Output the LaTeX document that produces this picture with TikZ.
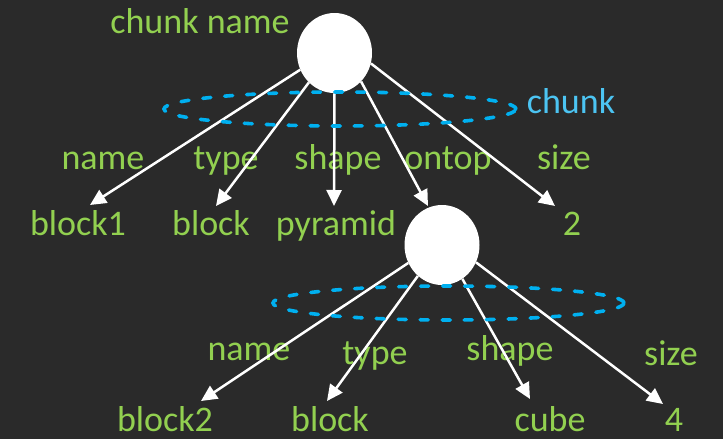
\documentclass[tikz,border=0pt]{standalone}
\usepackage{fontspec}
\setmainfont{Carlito}
\usetikzlibrary{arrows.meta,shapes.geometric}
\definecolor{bgdark}{HTML}{2A2A2A}
\definecolor{keygreen}{HTML}{92D050}
\definecolor{ringblue}{HTML}{00B0F0}
\definecolor{ringtext}{HTML}{4CC4F2}
\begin{document}
\begin{tikzpicture}[x=1pt,y=-1pt,
  chunknode/.style={ellipse,fill=white,draw=none,minimum width=75pt,minimum height=80pt,inner sep=0pt},
  lbl/.style={text=keygreen,font=\fontsize{36}{40}\selectfont,anchor=base,inner sep=0pt},
  link/.style={draw=white,line width=2.5pt,-{Triangle[length=16pt,width=15pt]}},
  group/.style={ellipse,draw=ringblue,line width=3.6pt,dash pattern=on 8pt off 14pt,line cap=round,inner sep=0pt},
]
% background
\fill[bgdark] (0,0) rectangle (723,439);
\useasboundingbox (0,0) rectangle (723,439);

% chunk nodes
\node[chunknode] (e1) at (334.5,53) {};
\node[chunknode] (e2) at (442,245) {};

% labels
\node[lbl] (cname) at (200,33) {chunk name};
\node[lbl,text=ringtext] (cchunk) at (571,113) {chunk};

\node[lbl] (k1) at (103,169) {name};
\node[lbl] (k2) at (226,169) {type};
\node[lbl] (k3) at (338,169) {shape};
\node[lbl] (k4) at (448,169) {ontop};
\node[lbl] (k5) at (564,169) {size};

\node[lbl] (v1) at (78,235) {block1};
\node[lbl] (v2) at (211,235) {block};
\node[lbl] (v3) at (336,235) {pyramid};
\node[lbl] (v5) at (572,235) {2};

\node[lbl] (k6) at (249,360) {name};
\node[lbl] (k7) at (375,364) {type};
\node[lbl] (k8) at (510,360) {shape};
\node[lbl] (k9) at (671,365) {size};

\node[lbl] (v6) at (165,431) {block2};
\node[lbl] (v7) at (330,431) {block};
\node[lbl] (v8) at (550,431) {cube};
\node[lbl] (v9) at (674,431) {4};

% arrow tips
\coordinate (t1) at (90,205);
\coordinate (t2) at (216,206);
\coordinate (t3) at (334,206);
\coordinate (t4) at (428,206);
\coordinate (t5) at (555,206);
\coordinate (t6) at (201,401);
\coordinate (t7) at (327,401);
\coordinate (t8) at (530,399);
\coordinate (t9) at (663,404);

% attribute links
\draw[link] (e1.-154.5) -- (t1);
\draw[link] (e1.-131.5) -- (t2);
\draw[link] (e1.-90) -- (t3);
\draw[link] (e1.-47.6) -- (t4);
\draw[link] (e1.-16) -- (t5);

\draw[link] (e2.-152) -- (t6);
\draw[link] (e2.-128) -- (t7);
\draw[link] (e2.-59) -- (t8);
\draw[link] (e2.-27) -- (t9);

% chunk rings
\node[group,minimum width=352pt,minimum height=34pt] (g1) at (340,109) {};
\node[group,minimum width=351pt,minimum height=34pt] (g2) at (448.5,303) {};
\end{tikzpicture}
\end{document}
